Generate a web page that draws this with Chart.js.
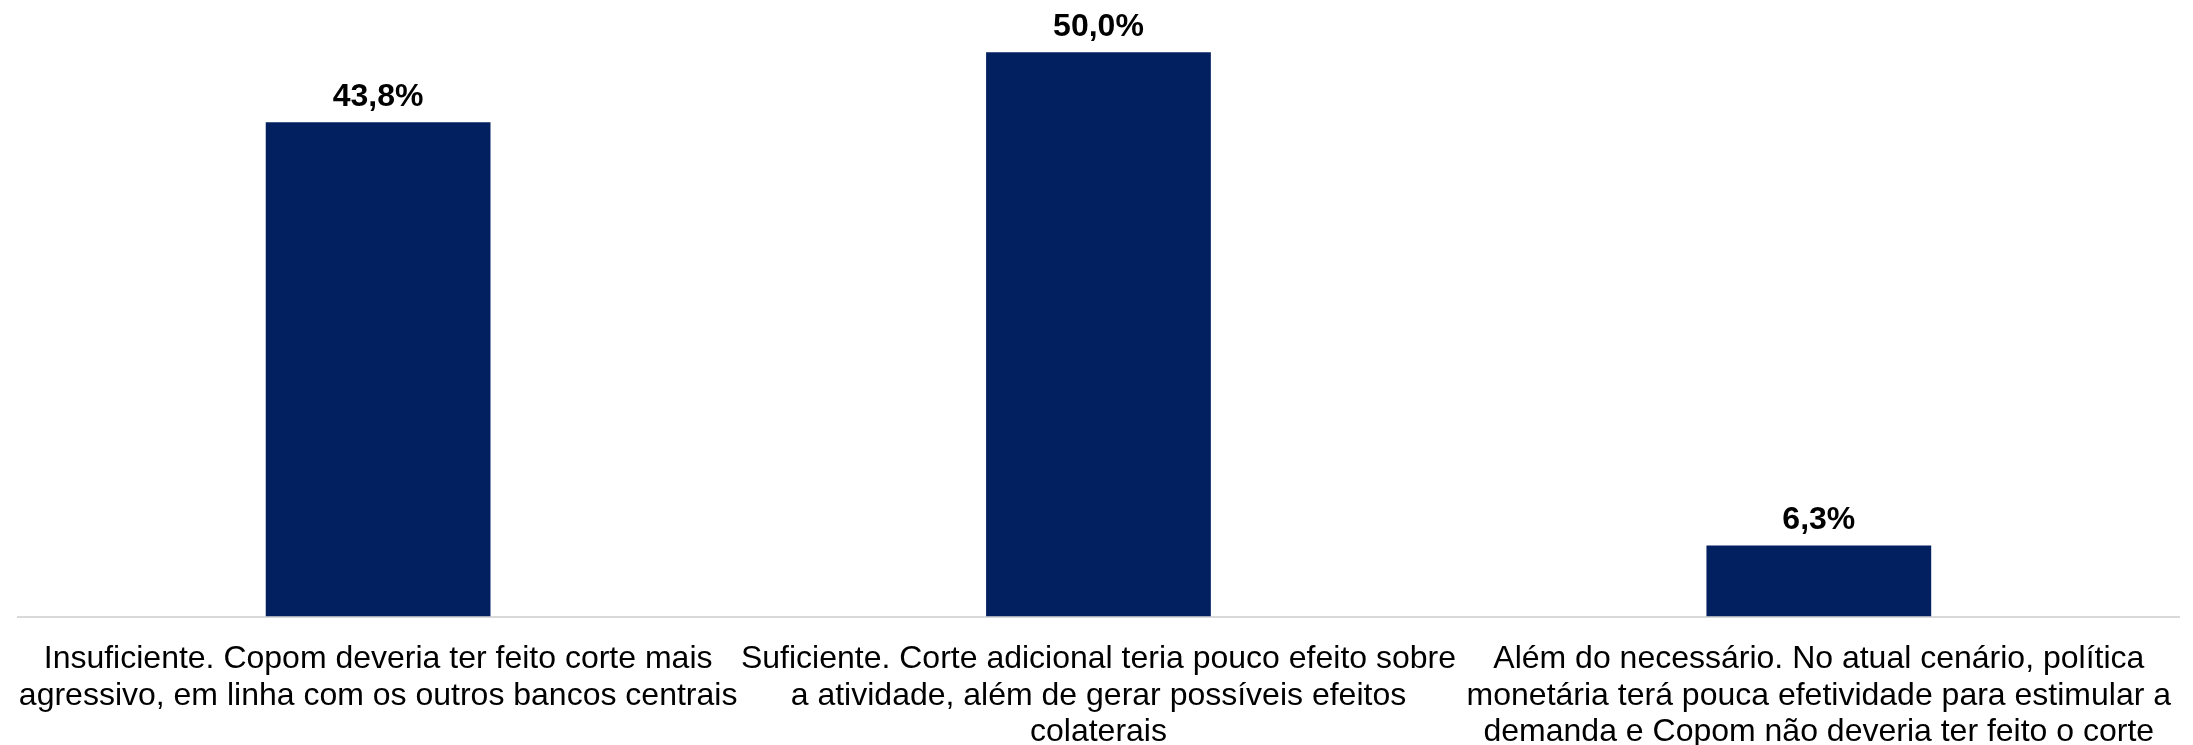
<!DOCTYPE html>
<html>
<head>
<meta charset="utf-8">
<script src="https://cdn.jsdelivr.net/npm/chart.js@4/dist/chart.umd.min.js"></script>
<style>
    body { margin: 0; background: #ffffff; }
    #wrap { width: 2193px; height: 745px; }
</style>
</head>
<body>
<div id="wrap"><canvas id="chart" width="2193" height="745"></canvas></div>
<script>
// categorias (já quebradas em linhas como no gráfico original)
const categories = [
    ["Insuficiente. Copom deveria ter feito corte mais", "agressivo, em linha com os outros bancos centrais"],
    ["Suficiente. Corte adicional teria pouco efeito sobre", "a atividade, além de gerar possíveis efeitos", "colaterais"],
    ["Além do necessário. No atual cenário, política", "monetária terá pouca efetividade para estimular a", "demanda e Copom não deveria ter feito o corte"]
];
const values = [43.8, 50.0, 6.3];
const barColor = "#022060";

// rótulos de valor acima das barras
const valueLabels = {
    id: "valueLabels",
    afterDatasetsDraw(chart) {
        const ctx = chart.ctx;
        const meta = chart.getDatasetMeta(0);
        ctx.save();
        ctx.font = "bold 32px 'Liberation Sans', Arial, sans-serif";
        ctx.fillStyle = "#000000";
        ctx.textAlign = "center";
        ctx.textBaseline = "bottom";
        meta.data.forEach((bar, i) => {
            let txt = values[i].toFixed(1).replace(".", ",") + "%";
            ctx.fillText(txt, bar.x, bar.y - 9);
        });
        ctx.restore();
    }
};

new Chart(document.getElementById("chart").getContext("2d"), {
    type: "bar",
    data: {
        labels: categories,
        datasets: [{
            data: values,
            backgroundColor: barColor,
            barPercentage: 1,
            categoryPercentage: 0.312
        }]
    },
    options: {
        responsive: false,
        animation: false,
        layout: { padding: { left: 17, right: 14, top: 7, bottom: -22 } },
        plugins: { legend: { display: false }, tooltip: { enabled: false } },
        scales: {
            y: { display: false, min: 0, max: 54 },
            x: {
                grid: { display: false },
                border: { display: true, color: "#d9d9d9", width: 2 },
                ticks: {
                    color: "#000000",
                    padding: 16,
                    maxRotation: 0,
                    autoSkip: false,
                    font: { family: "'Liberation Sans', Arial, sans-serif", size: 32, lineHeight: 1.15 }
                }
            }
        }
    },
    plugins: [valueLabels]
});
</script>
</body>
</html>
